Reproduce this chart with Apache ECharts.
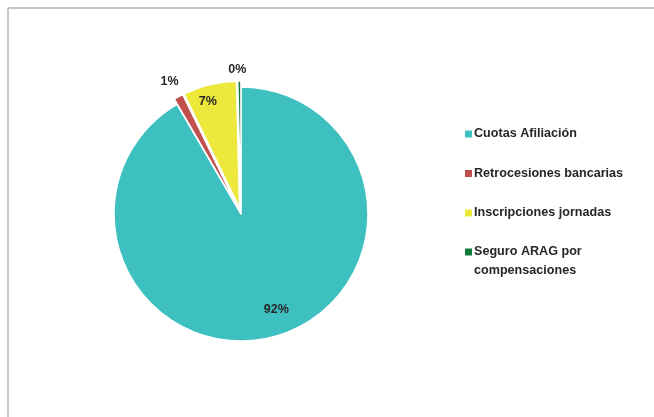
<!DOCTYPE html>
<html><head><meta charset="utf-8">
<script src="https://cdn.jsdelivr.net/npm/echarts@6/dist/echarts.min.js"></script>
<style>html,body{margin:0;padding:0;background:#fff}#c{width:654px;height:417px}</style>
</head><body><div id="c"></div>
<script>
const categories = ['Cuotas Afiliación', 'Retrocesiones bancarias', 'Inscripciones jornadas', 'Seguro ARAG por\ncompensaciones'];
const values = [91.6, 1.2, 6.8, 0.4];
const colors = ['#3EC0C0', '#C0504D', '#EDE93C', '#127A3B'];
const exploded = [false, true, true, true];

const chart = echarts.init(document.getElementById('c'));
const font = '"Liberation Sans", Arial, sans-serif';
const legendText = { fontFamily: font, fontWeight: 'bold', fontSize: 12.6, color: '#262626', lineHeight: 19, padding: [0, 0, 0, -4] };
chart.setOption({
  animation: false,
  graphic: [
    { type: 'line', shape: { x1: 8, y1: 8, x2: 654, y2: 8 }, style: { stroke: '#b4b4b4', lineWidth: 1.5 } },
    { type: 'line', shape: { x1: 8, y1: 8, x2: 8, y2: 417 }, style: { stroke: '#b4b4b4', lineWidth: 1.5 } }
  ],
  legend: [{
    orient: 'vertical',
    left: 463, top: 124.5, padding: 0,
    itemWidth: 9, itemHeight: 9, itemGap: 20.5,
    icon: 'rect',
    selectedMode: false,
    textStyle: legendText,
    data: categories.slice(0, 3)
  }, {
    orient: 'vertical',
    left: 463, top: 223.5, padding: 0,
    itemWidth: 9, itemHeight: 9,
    icon: 'rect',
    selectedMode: false,
    textStyle: legendText,
    formatter: name => ' \n' + name,
    data: categories.slice(3)
  }],
  series: [{
    type: 'pie',
    center: [241, 214],
    radius: 127,
    startAngle: 90,
    clockwise: true,
    selectedMode: 'multiple',
    selectedOffset: 6,
    avoidLabelOverlap: false,
    itemStyle: { borderColor: '#fff', borderWidth: 1.5 },
    emphasis: { disabled: true },
    label: {
      fontFamily: font, fontWeight: 'bold', fontSize: 12.5, color: '#262626',
      formatter: p => Math.round(p.percent) + '%'
    },
    labelLine: { show: false, length: 6, length2: 0 },
    labelLayout: function (p) {
      if (p.dataIndex === 0) return { dx: 18, dy: 31 };
      if (p.dataIndex === 1) return { dx: 8, dy: -10 };
      if (p.dataIndex === 2) return { dx: -16, dy: -42 };
      if (p.dataIndex === 3) return { dx: 12, dy: -5 };
      return {};
    },
    data: values.map((v, i) => ({
      name: categories[i], value: v, selected: exploded[i],
      itemStyle: { color: colors[i] },
      label: { position: (i === 0 || i === 2) ? 'inside' : 'outside' }
    }))
  }]
});
</script></body></html>
